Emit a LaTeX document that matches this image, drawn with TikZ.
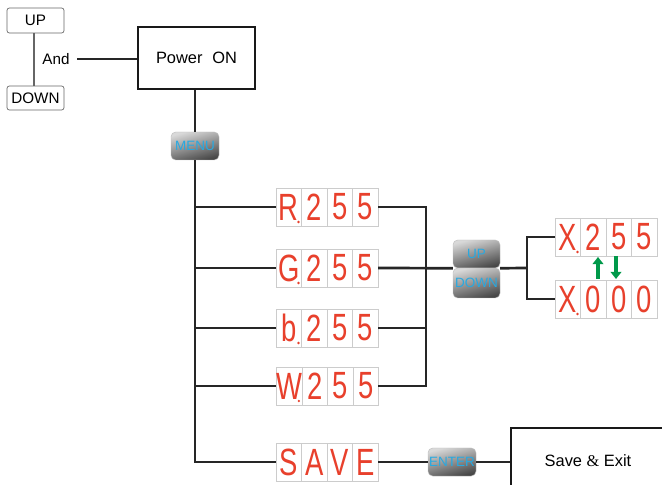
\documentclass[tikz,border=0pt]{standalone}
\usepackage{fontspec}
\setmainfont{Liberation Sans}
\newfontfamily\ampfont{Liberation Serif}
\usetikzlibrary{positioning,calc,arrows.meta}
\definecolor{lcdred}{HTML}{E8402C}
\definecolor{btnblue}{HTML}{27A9E1}
\definecolor{okgreen}{HTML}{00994A}
\tikzset{
  wire/.style={line width=2.3pt, draw=black!85},
  box/.style={draw=black!90, line width=1.1pt, font=\fontsize{14}{16}\selectfont},
  key/.style={draw=black!60, line width=0.6pt, rounded corners=2pt, font=\fontsize{13}{15}\selectfont},
  btn/.style={rounded corners=4pt, draw=black!25, line width=0.4pt, top color=black!15, bottom color=black!72, shading angle=15, text=btnblue, inner sep=0pt, font=\fontsize{11.5}{12}\selectfont},
  cell/.style={draw=black!20, line width=0.5pt, fill=white, minimum width=0.765cm, minimum height=1.14cm, inner sep=0pt, outer sep=0pt},
  garrow/.style={draw=okgreen, line width=2.6pt, -{Triangle[length=6pt,width=9pt]}}
}
\def\seg#1{{\color{lcdred}\fontsize{18}{18}\selectfont\scalebox{1.3}[1.8]{#1}}}
% four cell display, left end at #2
\def\lcd#1(#2)#3#4#5#6{%
  \node[cell, anchor=west] (#1-1) at (#2) {\seg{#3}};
  \node[cell, right=0pt of #1-1] (#1-2) {\seg{#4}};
  \node[cell, right=0pt of #1-2] (#1-3) {\seg{#5}};
  \node[cell, right=0pt of #1-3] (#1-4) {\seg{#6}};}
\def\lcddot#1{\fill[lcdred] (#1-1.south east) ++(-3,-4) circle (1.1pt);}

\begin{document}
\begin{tikzpicture}[x=0.03cm, y=-0.03cm]
  \useasboundingbox (0,0) rectangle (662,485);

  % start
  \node[key, minimum width=1.71cm, minimum height=0.75cm] (up) at (35.5,20.5) {UP};
  \node[key, minimum width=1.71cm, minimum height=0.72cm] (down) at (35.5,98) {DOWN};
  \draw[draw=black!60, line width=1pt] (up.south -| 34,0) -- (down.north -| 34,0);
  \node[font=\fontsize{13}{15}\selectfont] (and) at (56,59) {And};
  \node[box, minimum width=3.51cm, minimum height=1.86cm] (power) at (196.5,58) {Power\hspace{0.6em}ON};
  \draw[wire] ([xshift=3pt]and.east) -- (and.east -| power.west);

  \node[btn, minimum width=1.44cm, minimum height=0.84cm] (menu) at (195,146) {MENU};
  \draw[wire] (menu.north |- power.south) -- (menu.north);

  % displays
  \lcd{r}(276,207){R}{2}{5}{5} \lcddot{r}
  \lcd{g}(276,268){G}{2}{5}{5} \lcddot{g}
  \lcd{b}(276,328){b}{2}{5}{5} \lcddot{b}
  \lcd{w}(276,386){W}{2}{5}{5} \lcddot{w}
  \lcd{save}(276,462){S}{A}{V}{E}

  \draw[wire] (menu.south) |- (save-1.west);
  \foreach \d in {r,g,b,w}
    \draw[wire] (menu.south |- \d-1.west) -- (\d-1.west);

  % up / down
  \coordinate (bus) at (426,268);
  \node[btn, minimum width=1.41cm, minimum height=0.84cm] (btnup) at (476.5,254) {UP};
  \node[btn, minimum width=1.41cm, minimum height=0.9cm] (btndown) at (476.5,283) {DOWN};
  \draw[wire] (r-4.east) -| (bus |- w-4.east) -- (w-4.east);
  \draw[wire] (b-4.east) -- (bus |- b-4.east);
  \draw[wire] (g-4.east) -- (btnup.south west);

  \lcd{xa}(555,237){X}{2}{5}{5} \lcddot{xa}
  \lcd{xb}(555,299){X}{0}{0}{0} \lcddot{xb}
  \coordinate (fork) at (527,268);
  \draw[wire] (btnup.south east) -- (fork);
  \draw[wire] (xa-1.west) -| (fork) |- (xb-1.west);
  \draw[garrow] (598,279) -- (598,257);
  \draw[garrow] (616,256) -- (616,279);

  % save
  \node[btn, minimum width=1.44cm, minimum height=0.84cm] (enter) at (452,462) {ENTER};
  \node[box, minimum width=4.62cm, minimum height=1.98cm] (exit) at (588,461) {Save {\ampfont\&} Exit};
  \draw[wire] (save-4.east) -- (enter.west);
  \draw[wire] (enter.east) -- (exit.west |- enter.east);
\end{tikzpicture}
\end{document}
